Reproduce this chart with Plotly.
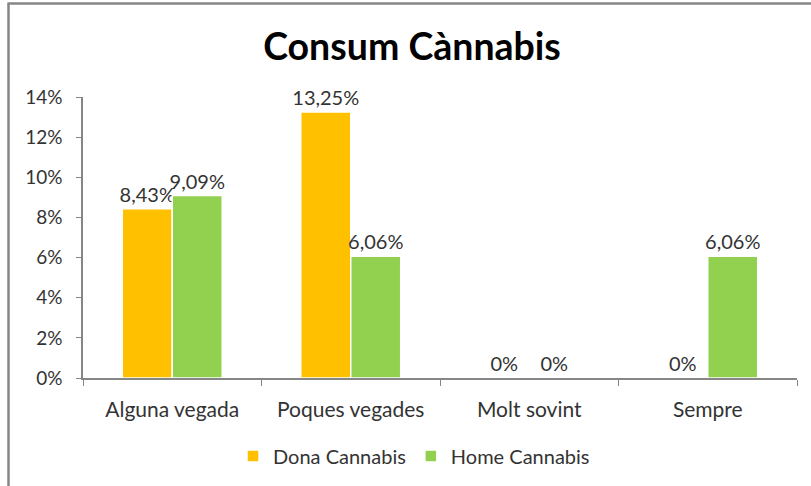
import plotly.graph_objects as go

categories = ["Alguna vegada", "Poques vegades", "Molt sovint", "Sempre"]
dona_values = [0.0843, 0.1325, 0.0, 0.0]
home_values = [0.0909, 0.0606, 0.0, 0.0606]
series_names = ["Dona Cannabis", "Home Cannabis"]
y_tick_values = [0, 0.02, 0.04, 0.06, 0.08, 0.10, 0.12, 0.14]
y_tick_labels = ["0%", "2%", "4%", "6%", "8%", "10%", "12%", "14%"]


def fmt(v):
    if v == 0:
        return "0%"
    return f"{v * 100:.2f}%".replace(".", ",")


FONT = "Lato, Calibri, Carlito, sans-serif"
TXT = "#333333"

fig = go.Figure()
for name, vals, color in [
    (series_names[0], dona_values, "#FFC000"),
    (series_names[1], home_values, "#92D050"),
]:
    fig.add_trace(go.Bar(
        name=name,
        x=categories,
        y=vals,
        text=[fmt(v) for v in vals],
        textposition="outside",
        constraintext="none",
        textfont=dict(family=FONT, size=20, color=TXT),
        cliponaxis=False,
        marker=dict(color=color, line=dict(color="white", width=1.5)),
    ))

W, H = 811, 486
L, R, T, B = 83, 14, 97, 108
pw = W - L - R
ph = H - T - B


def px2paper_x(px):
    return (px - L) / pw


def px2paper_y(py):
    return (H - B - py) / ph


fig.update_layout(
    width=W,
    height=H,
    margin=dict(l=L, r=R, t=T, b=B, autoexpand=False),
    paper_bgcolor="white",
    plot_bgcolor="white",
    barmode="group",
    bargap=0.44,
    bargroupgap=0,
    font=dict(family=FONT, size=17, color=TXT),
    title=dict(
        text="<b>Consum Cànnabis</b>",
        x=px2paper_x(412),
        xref="paper",
        xanchor="center",
        y=1 - 47 / H,
        yref="container",
        yanchor="middle",
        font=dict(family=FONT, size=37.5, color="#000000"),
    ),
    showlegend=True,
    legend=dict(
        orientation="h",
        x=px2paper_x(414),
        xanchor="center",
        y=px2paper_y(456),
        yanchor="middle",
        font=dict(family=FONT, size=20, color=TXT),
        itemwidth=30,
        traceorder="normal",
    ),
    xaxis=dict(
        showline=True,
        linecolor="#868686",
        linewidth=1.5,
        ticks="outside",
        tickson="boundaries",
        ticklen=6,
        tickcolor="#868686",
        tickfont=dict(family=FONT, size=21, color=TXT),
        ticklabelstandoff=12,
        showgrid=False,
    ),
    yaxis=dict(
        range=[0, 0.14],
        tickvals=y_tick_values,
        ticktext=y_tick_labels,
        showline=True,
        linecolor="#868686",
        linewidth=1.5,
        ticks="outside",
        ticklen=5,
        tickcolor="#868686",
        tickfont=dict(family=FONT, size=19, color=TXT),
        ticklabelstandoff=10,
        showgrid=False,
        zeroline=False,
    ),
    shapes=[
        dict(type="line", xref="paper", yref="paper",
             x0=px2paper_x(8.5), x1=px2paper_x(8.5),
             y0=px2paper_y(3.5), y1=px2paper_y(490),
             line=dict(color="#868686", width=2.5)),
        dict(type="line", xref="paper", yref="paper",
             x0=px2paper_x(7.5), x1=px2paper_x(815),
             y0=px2paper_y(3.5), y1=px2paper_y(3.5),
             line=dict(color="#868686", width=2.5)),
    ],
)

fig.write_html(
    "out.html",
    config={"displayModeBar": False},
    post_script="document.body.style.margin='0';",
)
